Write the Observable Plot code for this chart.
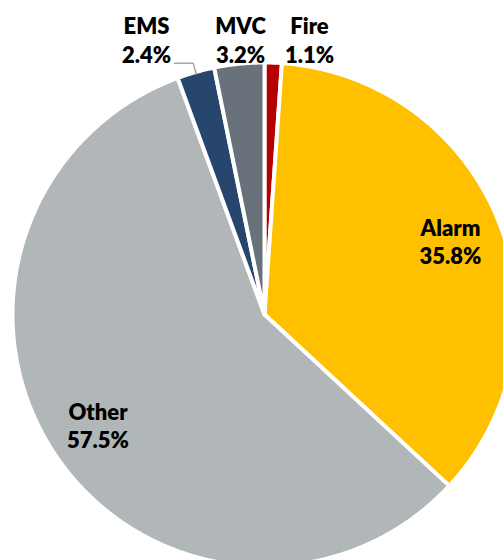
<!DOCTYPE html>
<html><head><meta charset="utf-8">
<script src="https://cdn.jsdelivr.net/npm/d3@7"></script>
<script src="https://cdn.jsdelivr.net/npm/@observablehq/plot@0.6"></script>
<style>body{margin:0;overflow:hidden;background:#fff}#chart svg{overflow:hidden}</style>
</head><body><div id="chart"></div>
<script>
// Data (clockwise from 12 o'clock)
const categories = ["Fire", "Alarm", "Other", "EMS", "MVC"];
const shares = [1.1, 35.8, 57.5, 2.4, 3.2];
const sliceColors = ["#B40000", "#FFC000", "#B1B7B9", "#27466E", "#69717A"];

// Layout (in units of the pie radius)
const R = 1.008;
const insideLabelRadius = 0.8;
const outsideLabelY = 1.1;
const outsideLabelX = {Fire: 0.18, MVC: -0.096, EMS: -0.472};

const rows = categories.map((name, i) => ({name, share: shares[i]}));
const arcs = d3.pie().sort(null).value(d => d.share)(rows);

const polys = [];
for (const a of arcs) {
  const n = Math.max(3, Math.ceil((a.endAngle - a.startAngle) * 180 / Math.PI * 2));
  polys.push({name: a.data.name, x: 0, y: 0});
  for (let k = 0; k <= n; k++) {
    const t = a.startAngle + (a.endAngle - a.startAngle) * k / n;
    polys.push({name: a.data.name, x: R * Math.sin(t), y: R * Math.cos(t)});
  }
}

const labelRows = arcs.map(a => {
  const name = a.data.name;
  const mid = (a.startAngle + a.endAngle) / 2;
  const text = `${name}\n${a.data.share.toFixed(1)}%`;
  if (name in outsideLabelX) return {text, x: outsideLabelX[name], y: outsideLabelY};
  return {text, x: insideLabelRadius * Math.sin(mid), y: insideLabelRadius * Math.cos(mid)};
});

// leader line for EMS
const ems = arcs.find(a => a.data.name === "EMS");
const emsMid = (ems.startAngle + ems.endAngle) / 2;
const leader = [
  {x: 1.0 * Math.sin(emsMid), y: 1.0 * Math.cos(emsMid)},
  {x: 1.045 * Math.sin(emsMid), y: 1.045 * Math.cos(emsMid)},
  {x: -0.36, y: 1.045 * Math.cos(emsMid)}
];

const chart = Plot.plot({
  width: 503,
  height: 560,
  margin: 0,
  style: {background: "#fff"},
  x: {domain: [-264 / 250, 239 / 250], axis: null},
  y: {domain: [-246 / 250, 314 / 250], axis: null},
  color: {domain: categories, range: sliceColors},
  marks: [
    Plot.line(polys, {x: "x", y: "y", z: "name", fill: "name", stroke: "white",
      strokeWidth: 4, strokeLinejoin: "round", curve: "linear-closed"}),
    Plot.line(leader, {x: "x", y: "y", stroke: "#A6A6A6", strokeWidth: 1.5, strokeLinejoin: "miter"}),
    Plot.text(labelRows, {x: "x", y: "y", text: "text", fontSize: 22, fontWeight: 800,
      fontFamily: "Lato", lineHeight: 1.28, fill: "#000"})
  ]
});
document.getElementById("chart").appendChild(chart);
</script>
</body></html>
